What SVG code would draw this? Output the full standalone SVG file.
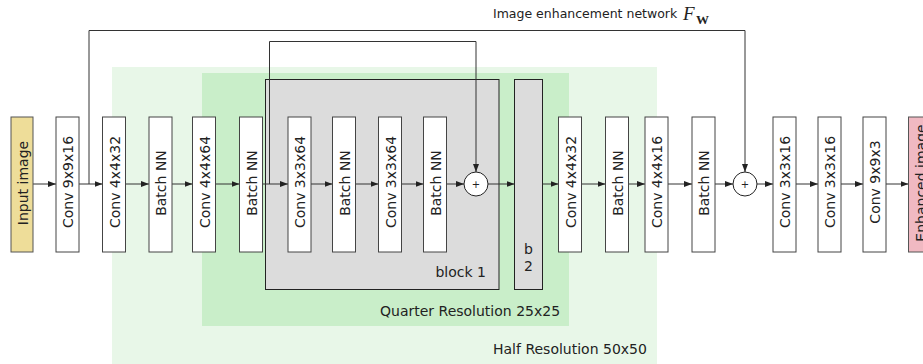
<svg xmlns="http://www.w3.org/2000/svg" width="923" height="364" viewBox="0 0 923 364">
<defs>
<style>
.box{fill:#fff;stroke:#444;stroke-width:1}
.lbl{font-family:"DejaVu Sans",Verdana,sans-serif;font-size:14px;fill:#222;text-anchor:middle}
.txt{font-family:"DejaVu Sans",Verdana,sans-serif;font-size:14px;fill:#222}
.ln{fill:none;stroke:#333;stroke-width:1}
</style>
<marker id="ah" viewBox="0 0 8 6" refX="8" refY="3" markerWidth="8" markerHeight="6" markerUnits="userSpaceOnUse" orient="auto">
<path d="M0,0 L8,3 L0,6 z" fill="#222"/>
</marker>
</defs>
<rect width="923" height="364" fill="#fff"/>
<g id="half-res">
<rect x="112" y="67" width="545" height="300" fill="#e8f7e8"/>
<text class="txt" x="493" y="354">Half Resolution 50x50</text>
</g>
<g id="quarter-res">
<rect x="202" y="73" width="367" height="253" fill="#c9eec9"/>
<text class="txt" x="380" y="316">Quarter Resolution 25x25</text>
</g>
<g id="block1">
<rect x="265.5" y="79.5" width="233.5" height="210" fill="#dcdcdc" stroke="#222"/>
<text class="txt" x="486" y="277" text-anchor="end">block 1</text>
</g>
<g id="block2">
<rect x="514.5" y="79.5" width="28" height="210" fill="#dcdcdc" stroke="#222"/>
<text class="txt" x="528.5" y="254" text-anchor="middle">b</text>
<text class="txt" x="528.5" y="271" text-anchor="middle">2</text>
</g>
<g id="title">
<text class="txt" x="493" y="18" style="font-size:12.5px">Image enhancement network</text>
<text x="683" y="20" style="font-family:'Liberation Serif',serif;font-style:italic;font-size:19px" fill="#222">F</text>
<text x="696" y="24" style="font-family:'Liberation Serif',serif;font-weight:bold;font-size:13px" fill="#222">W</text>
</g>
<g id="connectors">
<line class="ln" x1="33" y1="184" x2="56" y2="184" marker-end="url(#ah)"/>
<line class="ln" x1="79" y1="184" x2="102.5" y2="184" marker-end="url(#ah)"/>
<line class="ln" x1="125.5" y1="184" x2="149" y2="184" marker-end="url(#ah)"/>
<line class="ln" x1="172" y1="184" x2="192.5" y2="184" marker-end="url(#ah)"/>
<line class="ln" x1="215.5" y1="184" x2="239.5" y2="184" marker-end="url(#ah)"/>
<line class="ln" x1="262.5" y1="184" x2="288" y2="184" marker-end="url(#ah)"/>
<line class="ln" x1="311" y1="184" x2="332.5" y2="184" marker-end="url(#ah)"/>
<line class="ln" x1="355.5" y1="184" x2="378.5" y2="184" marker-end="url(#ah)"/>
<line class="ln" x1="401.5" y1="184" x2="423.5" y2="184" marker-end="url(#ah)"/>
<line class="ln" x1="446.5" y1="184" x2="464" y2="184" marker-end="url(#ah)"/>
<line class="ln" x1="488" y1="184" x2="514.5" y2="184" marker-end="url(#ah)"/>
<line class="ln" x1="542.5" y1="184" x2="558.5" y2="184" marker-end="url(#ah)"/>
<line class="ln" x1="581.5" y1="184" x2="605.5" y2="184" marker-end="url(#ah)"/>
<line class="ln" x1="628.5" y1="184" x2="645" y2="184" marker-end="url(#ah)"/>
<line class="ln" x1="668" y1="184" x2="692" y2="184" marker-end="url(#ah)"/>
<line class="ln" x1="715" y1="184" x2="733" y2="184" marker-end="url(#ah)"/>
<line class="ln" x1="757" y1="184" x2="773" y2="184" marker-end="url(#ah)"/>
<line class="ln" x1="796" y1="184" x2="818" y2="184" marker-end="url(#ah)"/>
<line class="ln" x1="841" y1="184" x2="863" y2="184" marker-end="url(#ah)"/>
<line class="ln" x1="886" y1="184" x2="908.5" y2="184" marker-end="url(#ah)"/>
<polyline class="ln" points="89,184 89,30.5 745,30.5 745,172" marker-end="url(#ah)"/>
<polyline class="ln" points="269.5,184 269.5,41.5 476,41.5 476,172" marker-end="url(#ah)"/>
</g>
<g id="n-input"><rect x="11" y="117" width="22" height="135" fill="#eedd99" stroke="#555"/><text class="lbl" transform="translate(27.5,183) rotate(-90)">Input image</text></g>
<g id="n-conv1"><rect class="box" x="56" y="117" width="23" height="135"/><text class="lbl" transform="translate(73,182) rotate(-90)">Conv 9x9x16</text></g>
<g id="n-conv2"><rect class="box" x="102.5" y="117" width="23" height="135"/><text class="lbl" transform="translate(119.5,182) rotate(-90)">Conv 4x4x32</text></g>
<g id="n-bn1"><rect class="box" x="149" y="117" width="23" height="135"/><text class="lbl" transform="translate(166,183) rotate(-90)">Batch NN</text></g>
<g id="n-conv3"><rect class="box" x="192.5" y="117" width="23" height="135"/><text class="lbl" transform="translate(209.5,182) rotate(-90)">Conv 4x4x64</text></g>
<g id="n-bn2"><rect class="box" x="239.5" y="117" width="23" height="135"/><text class="lbl" transform="translate(256.5,183) rotate(-90)">Batch NN</text></g>
<g id="n-conv4"><rect class="box" x="288" y="117" width="23" height="135"/><text class="lbl" transform="translate(305,182) rotate(-90)">Conv 3x3x64</text></g>
<g id="n-bn3"><rect class="box" x="332.5" y="117" width="23" height="135"/><text class="lbl" transform="translate(349.5,183) rotate(-90)">Batch NN</text></g>
<g id="n-conv5"><rect class="box" x="378.5" y="117" width="23" height="135"/><text class="lbl" transform="translate(395.5,182) rotate(-90)">Conv 3x3x64</text></g>
<g id="n-bn4"><rect class="box" x="423.5" y="117" width="23" height="135"/><text class="lbl" transform="translate(440.5,183) rotate(-90)">Batch NN</text></g>
<g id="n-add1"><circle cx="476" cy="184" r="12" fill="#fff" stroke="#222"/><text x="476" y="188" text-anchor="middle" style="font-family:'DejaVu Sans',sans-serif;font-size:10px" fill="#222">+</text></g>
<g id="n-conv6"><rect class="box" x="558.5" y="117" width="23" height="135"/><text class="lbl" transform="translate(575.5,182) rotate(-90)">Conv 4x4x32</text></g>
<g id="n-bn5"><rect class="box" x="605.5" y="117" width="23" height="135"/><text class="lbl" transform="translate(622.5,183) rotate(-90)">Batch NN</text></g>
<g id="n-conv7"><rect class="box" x="645" y="117" width="23" height="135"/><text class="lbl" transform="translate(662,182) rotate(-90)">Conv 4x4x16</text></g>
<g id="n-bn6"><rect class="box" x="692" y="117" width="23" height="135"/><text class="lbl" transform="translate(709,183) rotate(-90)">Batch NN</text></g>
<g id="n-add2"><circle cx="745" cy="184" r="12" fill="#fff" stroke="#222"/><text x="745" y="188" text-anchor="middle" style="font-family:'DejaVu Sans',sans-serif;font-size:10px" fill="#222">+</text></g>
<g id="n-conv8"><rect class="box" x="773" y="117" width="23" height="135"/><text class="lbl" transform="translate(790,182) rotate(-90)">Conv 3x3x16</text></g>
<g id="n-conv9"><rect class="box" x="818" y="117" width="23" height="135"/><text class="lbl" transform="translate(835,182) rotate(-90)">Conv 3x3x16</text></g>
<g id="n-conv10"><rect class="box" x="863" y="117" width="23" height="135"/><text class="lbl" transform="translate(880,182) rotate(-90)">Conv 9x9x3</text></g>
<g id="n-output"><rect x="908.5" y="117" width="23" height="135" fill="#f0b9c2" stroke="#555"/><text class="lbl" transform="translate(925.5,183) rotate(-90)">Enhanced image</text></g>
</svg>
